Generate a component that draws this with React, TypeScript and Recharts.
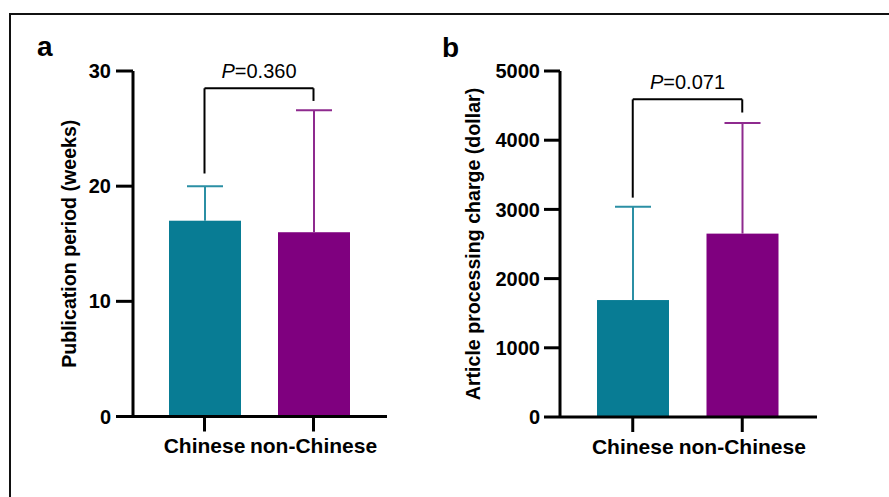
import { BarChart, Bar, XAxis, YAxis, ReferenceLine, Label } from "recharts";

const groups = ["Chinese", "non-Chinese"];
const periodMean = [17.0, 16.0];
const periodSd = [3.0, 10.6];
const chargeMean = [1690, 2650];
const chargeSd = [1350, 1600];
const periodTicks = [0, 10, 20, 30];
const chargeTicks = [0, 1000, 2000, 3000, 4000, 5000];
// bracket: [left leg bottom, right leg bottom, top]
const periodBracket = [21.1, 27.4, 28.5];
const chargeBracket = [3170, 4400, 4590];
const periodP = "0.360";
const chargeP = "0.071";

const barColors = ["#087c94", "#7f007f"];
const errColors = ["#2b8fa4", "#8e2a8e"];
const font = "'Liberation Sans', Arial, sans-serif";

const periodData = groups.map((g, i) => ({ group: g, mean: periodMean[i], sd: periodSd[i] }));
const chargeData = groups.map((g, i) => ({ group: g, mean: chargeMean[i], sd: chargeSd[i] }));

const MeanSdBar = (props: any) => {
  const { x, y, width, height, payload, index } = props;
  const perUnit = height / payload.mean;
  const cx = x + width / 2;
  const top = y - payload.sd * perUnit;
  const cap = width / 4;
  return (
    <g>
      <rect x={x} y={y} width={width} height={height} fill={barColors[index]} />
      <line x1={cx} y1={y} x2={cx} y2={top} stroke={errColors[index]} strokeWidth={2} />
      <line x1={cx - cap} y1={top} x2={cx + cap} y2={top} stroke={errColors[index]} strokeWidth={2} />
    </g>
  );
};

const AxisTitle = (props: any) => {
  const { viewBox, value, cx } = props;
  const cy = viewBox.y + viewBox.height / 2;
  return (
    <text
      x={cx}
      y={cy}
      transform={`rotate(-90 ${cx} ${cy})`}
      textAnchor='middle'
      dominantBaseline='central'
      fontFamily={font}
      fontWeight='bold'
      fontSize={19.6}
      fill='#000'
    >
      {value}
    </text>
  );
};

const PLabel = (props: any) => {
  const { viewBox, p } = props;
  const cx = viewBox.x + viewBox.width / 2;
  return (
    <text x={cx} y={viewBox.y - 10} textAnchor='middle' fontFamily={font} fontSize={20} fill='#000'>
      <tspan fontStyle='italic'>P</tspan>={p}
    </text>
  );
};

type PanelProps = {
  data: any[];
  ticks: number[];
  bracket: number[];
  p: string;
  title: string;
  width: number;
  yAxisWidth: number;
  margin: any;
  padding: any;
  tickSize: number;
  tickMargin: number;
  titleX: number;
};

const Panel = (pr: PanelProps) => {
  const [lb, rb, top] = pr.bracket;
  return (
    <BarChart width={pr.width} height={497} data={pr.data} margin={pr.margin}>
      <XAxis
        dataKey='group'
        height={50}
        interval={0}
        padding={pr.padding}
        axisLine={{ stroke: "#000", strokeWidth: 3 }}
        tickLine={{ stroke: "#000", strokeWidth: 3 }}
        tickSize={15}
        tickMargin={7}
        tick={{ fill: "#000", fontSize: 21, fontWeight: "bold", fontFamily: font }}
      />
      <YAxis
        width={pr.yAxisWidth}
        domain={[0, pr.ticks[pr.ticks.length - 1]]}
        ticks={pr.ticks}
        interval={0}
        axisLine={{ stroke: "#000", strokeWidth: 3 }}
        tickLine={{ stroke: "#000", strokeWidth: 3 }}
        tickSize={pr.tickSize}
        tickMargin={pr.tickMargin}
        tick={{ fill: "#000", fontSize: 20, fontWeight: "bold", fontFamily: font }}
      >
        <Label content={<AxisTitle value={pr.title} cx={pr.titleX} />} />
      </YAxis>
      <Bar dataKey='mean' barSize={72} isAnimationActive={false} shape={<MeanSdBar />} />
      <ReferenceLine
        segment={[{ x: groups[0], y: lb }, { x: groups[0], y: top }]}
        stroke='#000'
        strokeWidth={2}
      />
      <ReferenceLine
        segment={[{ x: groups[0], y: top }, { x: groups[1], y: top }]}
        stroke='#000'
        strokeWidth={2}
        label={<PLabel p={pr.p} />}
      />
      <ReferenceLine
        segment={[{ x: groups[1], y: rb }, { x: groups[1], y: top }]}
        stroke='#000'
        strokeWidth={2}
      />
    </BarChart>
  );
};

export default function App() {
  return (
    <div style={{ position: "absolute", left: 0, top: 0, width: 889, height: 497, background: "#fff", overflow: "hidden" }}>
      <div
        style={{
          position: "absolute",
          left: 9,
          top: 13,
          width: 890,
          height: 500,
          borderTop: "2px solid #111",
          borderLeft: "2px solid #111",
        }}
      />
      <span style={{ position: "absolute", left: 37, top: 33, fontFamily: font, fontWeight: "bold", fontSize: 28, lineHeight: "28px" }}>a</span>
      <span style={{ position: "absolute", left: 442, top: 34, fontFamily: font, fontWeight: "bold", fontSize: 28, lineHeight: "28px" }}>b</span>
      <div style={{ position: "absolute", left: 0, top: 0 }}>
        <Panel
          data={periodData}
          ticks={periodTicks}
          bracket={periodBracket}
          p={periodP}
          title='Publication period (weeks)'
          width={440}
          yAxisWidth={133}
          margin={{ top: 71, right: 53, bottom: 30.5, left: 0 }}
          padding={{ left: 17, right: 19 }}
          tickSize={17}
          tickMargin={5}
          titleX={69}
        />
      </div>
      <div style={{ position: "absolute", left: 430, top: 0 }}>
        <Panel
          data={chargeData}
          ticks={chargeTicks}
          bracket={chargeBracket}
          p={chargeP}
          title='Article processing charge (dollar)'
          width={459}
          yAxisWidth={130}
          margin={{ top: 71, right: 72, bottom: 30, left: 0 }}
          padding={{ left: 18, right: 20 }}
          tickSize={16}
          tickMargin={4}
          titleX={42.5}
        />
      </div>
    </div>
  );
}
